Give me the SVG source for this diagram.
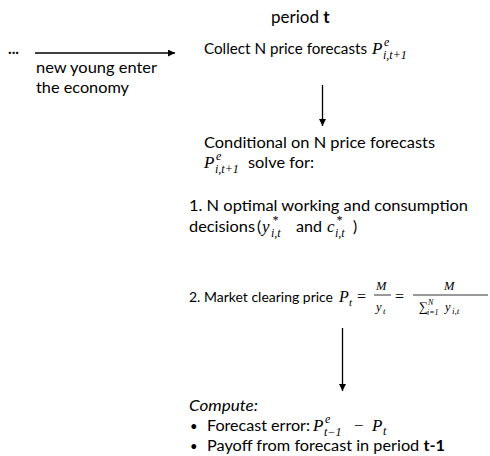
<svg xmlns="http://www.w3.org/2000/svg" width="490" height="456" viewBox="0 0 490 456">
<style>
.t{font-family:Lato,"Liberation Sans",Arial,sans-serif;font-size:15.5px;fill:#000}
.m{font-family:"Liberation Serif","Times New Roman",serif;font-style:italic;font-size:17px;fill:#000}
.s{font-family:"Liberation Serif","Times New Roman",serif;font-style:italic;font-size:12px;fill:#000}
.r{font-family:"Liberation Serif","Times New Roman",serif;font-size:17px;fill:#000}
.rs{font-family:"Liberation Serif","Times New Roman",serif;font-size:12px;fill:#000}
.c{stroke:#000;stroke-width:1.3;fill:none}
</style>
<defs>
<marker id="ah" viewBox="0 0 10 10" refX="10" refY="5" markerWidth="7" markerHeight="7" markerUnits="userSpaceOnUse" orient="auto">
<path d="M0,0 L10,5 L0,10 z" fill="#000"/>
</marker>
</defs>
<rect width="490" height="456" fill="#fff"/>

<g id="connectors">
<line class="c" x1="35" y1="53" x2="175" y2="53" marker-end="url(#ah)"/>
<line class="c" x1="322.5" y1="85" x2="322.5" y2="126" marker-end="url(#ah)"/>
<line class="c" x1="342.5" y1="328" x2="342.5" y2="391" marker-end="url(#ah)"/>
</g>

<g id="header">
<text class="t" x="271" y="23" style="font-size:17px">period <tspan font-weight="bold">t</tspan></text>
</g>

<g id="start">
<text class="t" x="8" y="54" font-weight="bold">...</text>
<text class="t" x="36" y="73" textLength="121" lengthAdjust="spacingAndGlyphs">new young enter</text>
<text class="t" x="36" y="93" textLength="93" lengthAdjust="spacingAndGlyphs">the economy</text>
</g>

<g id="collect">
<text class="t" x="204" y="54" textLength="163" lengthAdjust="spacingAndGlyphs">Collect N price forecasts</text>
<text class="m" x="372" y="54">P</text>
<text class="s" x="384" y="46">e</text>
<text class="s" x="383" y="59">i,t+1</text>
</g>

<g id="solve">
<text class="t" x="204" y="148" textLength="231" lengthAdjust="spacingAndGlyphs">Conditional on  N price forecasts</text>
<text class="m" x="204" y="168">P</text>
<text class="s" x="216" y="160">e</text>
<text class="s" x="215" y="173">i,t+1</text>
<text class="t" x="248" y="168" textLength="66" lengthAdjust="spacingAndGlyphs">solve for:</text>
</g>

<g id="decisions">
<text class="t" x="189" y="211" textLength="279" lengthAdjust="spacingAndGlyphs">1. N optimal working and consumption</text>
<text class="t" x="189" y="232" textLength="66" lengthAdjust="spacingAndGlyphs">decisions</text>
<text class="t" x="257" y="232">(</text>
<text class="m" x="262" y="232">y</text>
<text class="s" x="272" y="224">*</text>
<text class="s" x="271" y="237">i,t</text>
<text class="t" x="296" y="232" textLength="26" lengthAdjust="spacingAndGlyphs">and</text>
<text class="m" x="327" y="232">c</text>
<text class="s" x="336" y="224">*</text>
<text class="s" x="335" y="237">i,t</text>
<text class="t" x="353" y="232">)</text>
</g>

<g id="price">
<text class="t" x="189" y="302" style="font-size:14px" textLength="144" lengthAdjust="spacingAndGlyphs">2. Market clearing price</text>
<text class="m" x="339" y="302" style="font-size:16px">P</text>
<text class="s" x="349" y="306" style="font-size:11px">t</text>
<text class="r" x="357" y="302" style="font-size:16px">=</text>
<text class="s" x="376" y="290" style="font-size:12.5px">M</text>
<line x1="374" y1="295" x2="391" y2="295" stroke="#000" stroke-width="0.8"/>
<text class="s" x="376" y="311" style="font-size:12.5px">y</text>
<text class="s" x="383" y="314" style="font-size:9px">t</text>
<text class="r" x="395" y="302" style="font-size:16px">=</text>
<text class="s" x="444" y="290" style="font-size:12.5px">M</text>
<line x1="413" y1="295" x2="488" y2="295" stroke="#000" stroke-width="0.8"/>
<text class="rs" x="419" y="311" style="font-size:13px">∑</text>
<text class="s" x="428" y="305" style="font-size:8px">N</text>
<text class="s" x="427" y="315" style="font-size:8px">i=1</text>
<text class="s" x="445" y="311" style="font-size:12.5px">y</text>
<text class="s" x="452" y="314" style="font-size:9px">i,t</text>
</g>

<g id="compute">
<text class="t" x="189" y="411" font-style="italic" textLength="69" lengthAdjust="spacingAndGlyphs">Compute:</text>
<text class="t" x="190" y="431" style="font-size:13px">•</text>
<text class="t" x="207" y="431" textLength="103" lengthAdjust="spacingAndGlyphs">Forecast error:</text>
<text class="m" x="313" y="431">P</text>
<text class="s" x="325" y="423">e</text>
<text class="s" x="324" y="436">t−1</text>
<text class="r" x="354" y="431">−</text>
<text class="m" x="372" y="431">P</text>
<text class="s" x="383" y="435">t</text>
<text class="t" x="190" y="451" style="font-size:13px">•</text>
<text class="t" x="207" y="451" textLength="238" lengthAdjust="spacingAndGlyphs">Payoff from forecast in period <tspan font-weight="bold">t-1</tspan></text>
</g>
</svg>
